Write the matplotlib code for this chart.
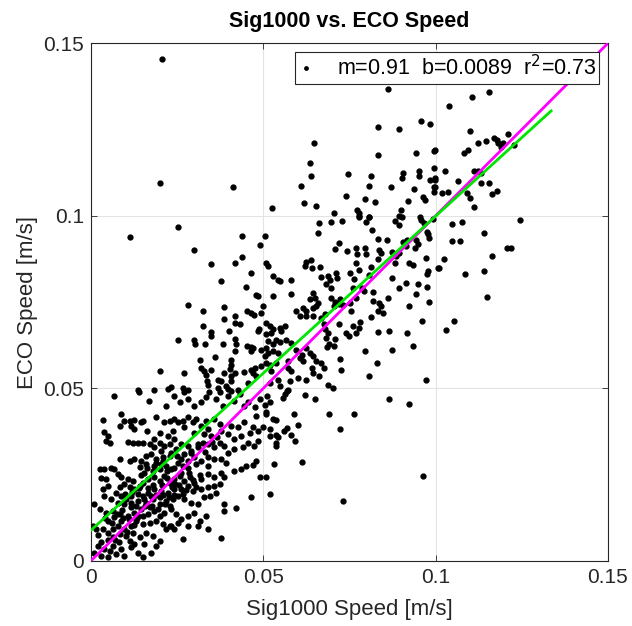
import matplotlib.pyplot as plt
import numpy as np

plt.rcParams['font.family'] = ['Liberation Sans', 'DejaVu Sans']

# speeds, in mm/s (converted to m/s below), grouped by region
x_a = [51.1, 51.8, 50.4, 50.7, 50.9, 55.7, 56.2, 56.9, 62.0, 65.1, 86.6, 92.3, 58.9, 69.0, 76.4,
       52.8, 53.8, 60.1, 49.9, 51.8, 56.9, 55.9, 72.2, 52.0, 53.6, 54.3, 58.1, 59.1, 53.6, 53.8,
       53.1, 61.3, 50.9, 52.0, 73.2, 96.3]
y_a = [47.9, 45.9, 45.2, 43.0, 42.5, 47.1, 48.3, 49.3, 48.1, 46.9, 46.9, 45.6, 42.7, 42.5, 42.6,
       41.1, 40.9, 39.4, 38.7, 38.2, 38.6, 37.6, 38.1, 36.3, 36.5, 36.0, 36.5, 34.6, 34.3, 33.2,
       28.0, 28.7, 24.2, 19.5, 17.3, 24.5]

x_b = [104.6, 107.7, 124.5, 113.9, 104.8, 107.1, 120.6, 121.8, 116.4, 102.5,
       101.0, 108.4, 113.9, 114.8, 105.4, 103.1]
y_b = [97.7, 98.3, 98.9, 95.1, 92.6, 92.6, 90.7, 90.7, 88.2, 87.5,
       84.9, 83.1, 83.9, 76.4, 69.6, 67.0]

x_c = [115.5, 110.6, 103.9, 110.0, 112.2, 114.5, 117.0, 117.7, 118.2, 121.1,
       119.6, 119.1, 122.8, 109.5, 108.2, 99.8, 102.7, 111.2, 112.2, 113.3,
       106.6, 113.3, 115.5, 99.8, 99.8, 101.7, 103.7, 109.0, 116.4, 117.8, 110.0, 111.2]
y_c = [136.0, 134.3, 131.9, 124.6, 121.0, 121.7, 122.6, 122.0, 121.0, 123.6,
       121.0, 119.8, 120.5, 119.1, 118.3, 119.1, 113.1, 113.0, 113.0, 112.3,
       110.1, 109.6, 109.4, 110.8, 108.2, 106.7, 106.9, 106.7, 106.3, 107.2, 105.2, 102.4]

x_d = [86.2, 64.6, 83.3, 89.3, 95.8, 98.3, 63.6, 83.3, 94.4, 99.4,
       63.8, 74.6, 81.1, 90.5, 90.1, 95.3, 95.1, 99.5, 98.4, 99.7,
       60.8, 80.8, 87.0, 93.7, 99.4, 99.4, 74.1, 79.4, 82.5, 61.7,
       65.4, 52.4, 91.9, 96.3, 96.8, 70.4, 77.3, 77.8, 77.9, 80.8, 89.8, 89.5, 95.5]
y_d = [136.8, 121.2, 125.8, 125.1, 127.5, 126.5, 115.4, 117.6, 118.1, 118.9,
       111.5, 112.0, 111.5, 112.5, 110.8, 113.0, 111.5, 113.9, 110.4, 110.5,
       108.6, 108.6, 108.3, 107.8, 108.4, 107.0, 105.8, 104.8, 103.9, 103.6,
       102.8, 102.3, 104.4, 105.5, 104.5, 100.9, 101.6, 100.7, 99.9, 99.7, 101.8, 99.9, 99.5]

x_e = [66.1, 65.9, 69.7, 72.8, 77.9, 80.7, 79.9, 88.2, 89.5, 90.3,
       95.8, 96.5, 99.2, 81.6, 83.3, 86.0, 97.8, 98.2, 97.5, 94.4,
       94.9, 93.9, 90.5, 91.5, 91.8, 71.9, 70.7, 74.4, 76.8, 77.3,
       79.4, 79.9, 77.0, 77.9, 81.3, 80.8, 83.6, 84.2, 83.3, 87.4,
       88.4, 89.3, 88.1, 92.4, 93.4, 97.3, 97.8, 97.6, 100.7, 62.5,
       63.9, 64.2, 62.0, 66.3, 50.9, 51.4, 50.4, 52.8, 54.3, 54.7,
       58.1, 66.8, 68.8, 69.2, 71.0, 71.5, 68.3, 69.7, 75.2, 76.2,
       76.0, 52.8, 58.1, 64.4, 64.9, 65.9, 65.4, 64.4, 63.4, 69.7,
       70.7, 72.1, 71.9, 70.5, 73.1, 61.5, 62.5, 59.6, 60.5, 62.5,
       64.4, 66.8, 67.8, 75.2, 75.3, 77.0, 81.8, 83.7, 86.2, 84.2,
       83.3, 84.7, 78.7, 79.2, 81.8, 87.4, 91.5, 89.5, 94.9, 97.6,
       94.4, 98.1, 92.4, 96.1, 81.3, 78.1, 77.9, 76.0, 76.8, 83.3,
       86.6, 91.7, 71.9, 67.6, 67.8, 68.8, 68.3, 69.0, 70.5, 68.6,
       70.7, 74.1, 75.0, 50.9, 51.8, 52.8, 54.7, 56.2, 55.2, 49.9,
       50.9, 52.3, 51.4, 52.8, 53.8, 54.7, 56.7, 58.1, 50.7, 51.4,
       52.8, 54.3, 50.4, 50.9, 51.8, 53.8, 52.3, 57.2, 57.2, 58.1,
       59.6, 61.3, 62.5, 63.4, 64.4, 65.4, 66.8, 67.6, 60.5, 61.5,
       64.2, 64.4, 66.1, 72.1, 72.6, 79.4, 83.1, 80.8, 87.4, 93.4,
       97.3, 54.3, 57.6, 60.1, 62.5, 68.8, 70.2, 57.2, 51.8, 54.7]
y_e = [97.8, 94.9, 98.3, 98.5, 99.6, 99.6, 98.3, 98.6, 97.2, 99.7,
       98.7, 97.8, 99.1, 96.0, 93.4, 93.1, 94.6, 93.6, 95.3, 92.9,
       91.7, 90.7, 92.4, 91.2, 93.1, 92.0, 90.5, 89.8, 90.7, 89.0,
       90.8, 89.0, 86.4, 84.2, 85.2, 82.7, 90.2, 89.3, 87.6, 89.4,
       88.3, 89.3, 86.4, 86.4, 85.6, 87.8, 83.9, 83.0, 84.9, 86.6,
       87.1, 84.9, 85.4, 85.1, 86.4, 85.4, 94.1, 82.5, 81.5, 81.0,
       81.5, 82.2, 82.5, 81.5, 83.3, 82.0, 80.1, 79.1, 83.5, 81.7,
       79.1, 76.7, 77.2, 77.7, 76.2, 74.8, 73.8, 73.3, 75.9, 76.2,
       74.9, 75.9, 74.3, 73.8, 74.0, 73.3, 72.3, 72.3, 71.1, 70.9,
       71.1, 70.4, 71.4, 74.8, 72.3, 76.2, 75.2, 74.8, 76.2, 73.8,
       72.3, 71.9, 79.1, 78.1, 77.9, 82.0, 80.6, 79.1, 80.1, 79.3,
       77.2, 74.9, 73.8, 69.4, 70.6, 69.1, 67.5, 68.0, 66.1, 66.2,
       66.5, 66.1, 68.5, 68.5, 67.2, 66.1, 64.6, 62.7, 62.2, 62.0,
       64.3, 66.1, 65.1, 68.9, 68.0, 67.2, 67.5, 68.0, 66.5, 73.8,
       65.6, 65.9, 63.6, 62.7, 64.1, 63.3, 64.1, 63.2, 61.7, 60.3,
       60.8, 60.3, 59.3, 57.4, 56.9, 57.4, 54.9, 57.8, 55.9, 54.9,
       61.2, 59.8, 61.7, 60.3, 59.3, 57.8, 57.4, 55.9, 58.8, 57.8,
       55.9, 54.5, 53.6, 58.5, 55.4, 60.7, 57.4, 53.5, 61.2, 62.2,
       52.3, 52.5, 52.0, 53.0, 52.5, 51.1, 50.1, 49.6, 51.6, 50.6]

x_f = [11.4, 25.2, 29.9, 34.9, 43.9, 43.8, 41.9, 46.3, 37.8, 49.1,
       45.1, 48.0, 48.4, 28.1, 32.5, 38.7, 45.3, 46.5, 47.2, 49.4,
       41.8, 41.9, 43.1, 38.6, 32.5, 39.9, 34.9, 34.9, 48.6, 48.4,
       29.9, 30.2, 33.0, 38.2, 41.7, 42.1, 25.2, 45.3, 46.5, 46.3,
       47.0, 49.4, 41.8, 36.1, 40.5, 40.7, 40.2, 31.5, 32.0, 32.7,
       34.9, 33.4, 19.9, 26.9, 38.7, 40.7, 41.7, 44.4, 46.5, 47.0,
       47.5, 49.4, 33.7, 33.9, 36.8, 37.8, 40.7, 39.2, 13.6, 18.4,
       22.3, 23.1, 26.7, 28.1, 36.8, 39.7, 42.6, 45.5, 48.0, 20.6, 20.0, 41.2]
y_f = [93.9, 96.8, 90.0, 86.1, 94.1, 88.0, 86.2, 83.5, 81.0, 91.4,
       79.3, 77.1, 76.7, 74.0, 72.5, 73.6, 72.5, 71.9, 71.2, 71.9,
       71.1, 68.9, 68.5, 70.1, 68.2, 66.5, 66.3, 65.1, 67.3, 66.5,
       63.9, 62.9, 62.7, 62.9, 64.3, 62.7, 64.1, 62.2, 62.0, 60.7,
       61.7, 61.2, 60.7, 59.1, 58.1, 56.9, 55.6, 58.1, 55.9, 55.1,
       55.2, 53.9, 54.9, 54.4, 54.4, 53.5, 54.4, 54.6, 55.2, 54.4,
       55.9, 56.4, 52.0, 51.1, 52.5, 52.0, 52.0, 50.6, 49.6, 49.6,
       49.8, 50.4, 50.1, 49.6, 50.1, 49.8, 49.6, 51.6, 53.5, 145.4, 109.5, 108.3]

x_g = [6.8, 13.9, 16.8, 21.8, 24.2, 25.7, 27.1, 28.1, 30.0, 33.4,
       34.1, 36.3, 37.3, 39.7, 41.6, 43.1, 44.5, 38.3, 40.7, 32.0,
       47.5, 48.9, 47.9, 45.5,
       3.5, 8.8, 9.5, 8.3, 11.7, 11.2, 12.6, 14.6, 15.1, 18.9,
       12.6, 16.3, 21.3, 22.8, 24.2, 25.2, 26.7, 28.1, 29.6, 30.5,
       32.0, 33.4, 35.8, 33.9, 37.3, 37.8, 40.7, 42.6, 44.5, 47.0,
       46.0, 48.4, 43.6, 41.6, 39.7, 34.9, 32.9, 30.0, 27.1, 23.8,
       22.3, 24.2, 19.9, 18.4, 3.9, 4.9, 10.7, 12.2, 13.6, 15.1,
       4.4, 5.4, 17.0, 18.4, 19.9, 21.3, 22.8, 20.4, 17.5, 16.0,
       14.6, 12.6, 11.2, 14.1, 16.0, 18.9, 20.9, 23.3, 24.7, 26.2,
       28.1, 29.1, 31.0, 32.5, 33.9, 35.8, 37.3, 38.7, 39.7, 41.6,
       44.1, 45.5, 47.4, 48.4, 37.8, 39.2, 35.8, 33.9, 32.0, 30.0,
       28.1, 26.7, 25.2, 23.3, 21.8, 19.9, 18.0, 15.5, 2.5, 3.9,
       5.9, 6.8, 8.3, 7.8, 2.8, 4.4, 47.0, 48.9, 47.9, 41.6, 43.6, 45.0,
       8.8, 10.7, 12.2, 9.7, 8.3, 11.2, 12.6, 14.1, 15.1, 16.5,
       18.4, 19.9, 21.3, 22.8, 24.2, 25.7, 27.1, 28.6, 30.0, 32.0,
       33.9, 35.8, 37.8, 38.7, 37.3, 35.8, 33.9, 32.0, 29.6, 28.1,
       26.2, 24.2, 22.3, 20.4, 18.4, 16.5, 15.1, 13.6, 11.7, 10.2,
       8.8, 7.3, 4.9, 3.5, 3.9, 5.9, 7.8, 9.7, 11.7, 13.6,
       16.0, 18.0, 19.9, 21.8, 23.8, 25.2, 27.1, 29.1, 31.0, 32.9,
       34.4, 36.3, 38.7, 46.5, 0.8, 42.1, 38.6,
       2.5, 4.4, 6.4, 8.3, 6.8, 4.9, 8.8, 10.7, 12.6, 14.6,
       16.5, 18.4, 19.9, 21.3, 23.3, 24.7, 26.2, 28.1, 30.0, 31.5,
       33.4, 28.1, 25.2, 23.3, 20.9, 21.8, 18.9, 17.0, 15.1, 13.1,
       11.7, 9.7, 7.8, 6.4, 8.3, 10.2, 12.2, 14.1, 16.0, 18.0,
       19.9, 3.5, 1.5, 0.6, 31.0, 33.9, 37.8, 26.7, 4.9, 11.2,
       15.5, 22.8, 24.2,
       2.0, 3.9, 6.4, 8.8, 11.7, 13.6, 15.1, 9.7, 7.3, 4.9,
       3.0, 1.0, 12.6, 18.9, 17.5]
y_g = [47.9, 49.0, 46.4, 45.0, 47.9, 45.9, 49.0, 46.9, 45.0, 47.4,
       48.8, 46.9, 48.8, 47.9, 46.4, 48.3, 45.0, 45.0, 49.3, 45.9,
       44.5, 46.9, 42.1, 45.9,
       40.9, 42.5, 40.6, 39.2, 39.2, 40.6, 40.9, 40.1, 40.6, 41.6,
       38.2, 37.7, 40.1, 40.6, 41.1, 40.1, 40.6, 41.6, 40.1, 41.1,
       39.2, 40.6, 41.1, 38.2, 39.6, 37.7, 39.2, 38.7, 40.1, 38.7,
       37.2, 37.7, 36.3, 35.3, 36.7, 36.3, 36.7, 37.2, 38.7, 37.7,
       36.3, 35.3, 37.2, 35.3, 37.4, 36.3, 34.5, 34.3, 34.1, 34.3,
       34.8, 34.1, 33.8, 32.9, 34.3, 33.4, 33.8, 31.9, 31.0, 30.5,
       29.0, 29.5, 29.0, 27.1, 28.0, 29.5, 30.0, 31.4, 32.4, 33.8,
       33.4, 31.9, 32.9, 34.3, 33.8, 32.9, 34.3, 33.4, 31.4, 32.4,
       32.9, 34.3, 33.4, 34.8, 29.5, 28.5, 29.5, 30.0, 29.0, 30.0,
       29.0, 27.6, 28.5, 26.6, 27.6, 26.6, 26.1, 25.6, 26.6, 26.6,
       26.8, 26.6, 29.5, 25.1, 23.9, 23.7, 27.8, 24.2, 29.0, 26.1, 26.6, 27.6,
       24.2, 23.7, 23.2, 22.2, 21.3, 21.3, 20.8, 21.8, 22.7, 23.7,
       24.2, 23.2, 24.7, 22.7, 23.7, 24.7, 23.2, 24.2, 22.7, 23.7,
       25.1, 24.2, 25.6, 24.2, 22.2, 21.8, 21.3, 20.8, 20.3, 21.8,
       20.8, 20.8, 19.8, 20.3, 20.8, 19.8, 18.9, 19.3, 18.9, 17.9,
       18.9, 19.8, 21.8, 20.8, 18.9, 17.9, 16.9, 16.4, 16.9, 17.4,
       16.9, 17.9, 18.4, 17.4, 17.9, 18.9, 17.9, 16.9, 16.4, 18.4,
       18.9, 19.8, 16.4, 18.6, 16.4, 15.2, 14.5,
       15.0, 14.0, 14.5, 13.5, 12.6, 11.6, 11.6, 13.1, 14.0, 15.0,
       13.5, 14.5, 13.1, 14.0, 15.0, 13.5, 12.1, 13.1, 14.0, 11.6,
       13.1, 10.2, 11.1, 10.2, 10.6, 9.2, 11.6, 11.1, 10.6, 11.6,
       10.2, 9.2, 10.2, 9.2, 7.7, 7.3, 8.2, 6.8, 8.2, 7.3,
       5.8, 9.2, 9.2, 10.2, 10.2, 9.2, 6.6, 6.3, 8.2, 5.8,
       4.8, 10.2, 9.2,
       4.3, 3.4, 4.3, 3.4, 3.9, 2.4, 1.0, 1.5, 1.9, 1.0,
       1.5, 2.4, 4.8, 4.3, 2.4]

# points hidden inside the solid black cloud near the origin
x_h = [10.0, 12.0, 14.0, 16.5, 18.0, 20.5, 22.0, 24.5, 26.0, 28.5,
       13.0, 15.5, 17.5, 19.0, 21.0, 23.5, 25.5, 27.5, 29.5, 31.5,
       9.0, 11.5, 13.5, 15.8, 17.8, 20.0, 22.5, 24.0, 26.8, 30.5,
       6.0, 7.5, 9.2, 11.0, 13.2, 15.0, 17.2, 19.5, 21.5, 23.0,
       19.0, 21.0, 23.0, 25.0, 27.0, 29.0, 31.0, 33.0, 35.0, 36.5,
       14.5, 16.2, 18.2, 20.2, 22.0, 24.0, 26.0, 28.0, 30.5, 34.0,
       5.0, 6.5, 8.0, 10.5, 12.5, 3.0, 5.5, 7.0, 2.0, 4.0]
y_h = [19.5, 20.0, 21.0, 21.2, 22.0, 22.0, 24.0, 22.2, 25.5, 25.5,
       16.0, 17.8, 18.8, 19.0, 19.2, 21.5, 22.0, 20.5, 23.5, 25.0,
       14.8, 15.5, 13.0, 16.0, 16.0, 16.5, 18.5, 19.0, 19.5, 21.5,
       11.0, 13.5, 12.5, 12.0, 12.5, 13.0, 15.5, 15.0, 16.5, 16.0,
       28.5, 29.0, 30.5, 30.5, 31.0, 31.2, 34.0, 31.5, 34.5, 36.0,
       24.8, 26.8, 27.5, 28.0, 26.0, 27.0, 29.5, 27.0, 28.0, 27.5,
       6.0, 7.0, 5.5, 8.5, 10.5, 5.5, 3.0, 6.0, 7.5, 12.5]

# fit shown in the legend
slope = 0.91
intercept = 0.0089
r2 = 0.73
fit_range = [0.0, 0.1335]
one_to_one = [0.0, 0.15]

sig = np.array(x_a + x_b + x_c + x_d + x_e + x_f + x_g + x_h) / 1000.0
eco = np.array(y_a + y_b + y_c + y_d + y_e + y_f + y_g + y_h) / 1000.0

fig = plt.figure(figsize=(6.32, 6.26), dpi=100)
ax = fig.add_axes([0.144, 0.104, 0.818, 0.827])

ax.plot(sig, eco, '.', color='k', markersize=7, zorder=3,
        label=f'm={slope:.2f}  b={intercept:.4f}  r$^2$={r2:.2f}')
ax.plot(one_to_one, one_to_one, color='#ff00ff', linewidth=2.0, zorder=4)
fx = np.array(fit_range)
ax.plot(fx, slope * fx + intercept, color='#00e600', linewidth=2.0, zorder=5)

ax.set_xlim(0, 0.15)
ax.set_ylim(0, 0.15)
ax.set_xticks([0, 0.05, 0.1, 0.15])
ax.set_yticks([0, 0.05, 0.1, 0.15])
ax.set_xticklabels(['0', '0.05', '0.1', '0.15'])
ax.set_yticklabels(['0', '0.05', '0.1', '0.15'])
ax.tick_params(direction='in', length=4, width=0.6, colors='#262626', labelsize=15,
               top=True, right=True, pad=5)
ax.grid(True, color='#e3e3e3', linewidth=0.8, zorder=0)
ax.set_axisbelow(True)
for s in ax.spines.values():
    s.set_color('#262626')
    s.set_linewidth(0.8)

ax.set_xlabel('Sig1000 Speed [m/s]', fontsize=16, color='#262626', labelpad=9)
ax.set_ylabel('ECO Speed [m/s]', fontsize=16, color='#262626', labelpad=4)
ax.set_title('Sig1000 vs. ECO Speed', fontsize=15.5, fontweight='bold', pad=12)

leg = ax.legend(loc='upper right', bbox_to_anchor=(0.983, 0.983), borderaxespad=0,
                fontsize=15.5, handlelength=0.8, handletextpad=1.0, markerscale=0.7,
                fancybox=False, framealpha=1, edgecolor='#262626', borderpad=0.15)
leg.get_frame().set_linewidth(0.8)

fig.savefig('out.png', dpi=100)
